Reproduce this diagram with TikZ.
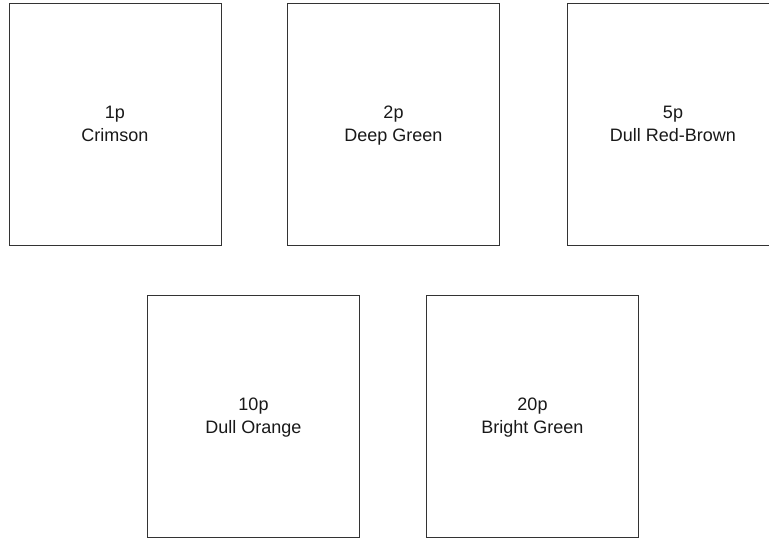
\documentclass[tikz,border=0pt]{standalone}
\usepackage{fontspec}
\setmainfont{Liberation Sans}
\newcommand{\dsc}{\vphantom{gp}}
\begin{document}
\begin{tikzpicture}[x=1pt,y=-1pt,
  coinbox/.style={draw=black!80, line width=1pt, minimum width=212pt, minimum height=242pt, inner sep=0pt, outer sep=0pt, fill=white},
  coinlbl/.style={align=center, text=black!90, font=\fontsize{18}{23}\selectfont, inner sep=0pt, yshift=-2pt}]
\useasboundingbox[fill=white] (0,0) rectangle (769,539);
\node[coinbox] (b1) at (115,124) {};
\node[coinbox] (b2) at (393.5,124) {};
\node[coinbox] (b3) at (673,124) {};
\node[coinbox] (b4) at (253.5,416) {};
\node[coinbox] (b5) at (532.5,416) {};
\node[coinlbl] (t1) at (b1.center) {1p\\Crimson\dsc};
\node[coinlbl] (t2) at (b2.center) {2p\\Deep Green\dsc};
\node[coinlbl] (t3) at (b3.center) {5p\\Dull Red-Brown\dsc};
\node[coinlbl] (t4) at (b4.center) {10p\\Dull Orange\dsc};
\node[coinlbl] (t5) at (b5.center) {20p\\Bright Green\dsc};
\end{tikzpicture}
\end{document}
